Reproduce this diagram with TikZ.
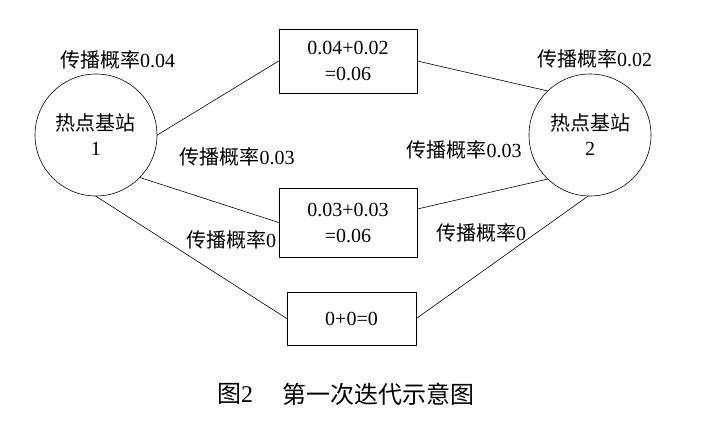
\documentclass[tikz,border=0pt]{standalone}
\usepackage{fontspec}
\setmainfont{Liberation Serif}
\newfontfamily\cjk{Noto Sans CJK SC}
\usetikzlibrary{positioning}

\begin{document}
\begin{tikzpicture}[x=1pt,y=-1pt]
\tikzset{
  hotnode/.style={circle,draw=black,line width=0.6pt,minimum size=122pt,inner sep=0pt,align=center,font=\fontsize{20}{25}\selectfont},
  sumnode/.style={rectangle,draw=black,line width=0.6pt,inner sep=0pt,align=center,font=\fontsize{20}{26}\selectfont},
  ratelabel/.style={inner sep=0pt,font=\fontsize{20}{24}\selectfont},
  linkedge/.style={draw=black,line width=0.6pt,line cap=round}
}
\useasboundingbox (0,0) rectangle (705,447);
\node[hotnode] (n_hot_1) at (96,135) {{\cjk 热点基站}\\1};
\node[hotnode] (n_hot_2) at (590,135) {{\cjk 热点基站}\\2};
\node[sumnode,minimum width=138pt,minimum height=64pt] (n_sum_a) at (348,61) {0.04+0.02\\=0.06};
\node[sumnode,minimum width=138pt,minimum height=69pt] (n_sum_b) at (348,222.5) {0.03+0.03\\=0.06};
\node[sumnode,minimum width=129pt,minimum height=53pt] (n_sum_c) at (351.5,318.5) {0+0=0};
\node[ratelabel] (l_rate_a1) at (117.5,60) {{\cjk 传播概率}0.04};
\node[ratelabel] (l_rate_a2) at (594.5,59) {{\cjk 传播概率}0.02};
\node[ratelabel] (l_rate_b1) at (237,157) {{\cjk 传播概率}0.03};
\node[ratelabel] (l_rate_b2) at (464,150) {{\cjk 传播概率}0.03};
\node[ratelabel] (l_rate_c1) at (231,240) {{\cjk 传播概率}0};
\node[ratelabel] (l_rate_c2) at (481,233) {{\cjk 传播概率}0};
\draw[linkedge] (n_hot_1.east) -- (n_sum_a.west);
\draw[linkedge] (n_sum_a.east) -- (n_hot_2.134);
\draw[linkedge] (n_hot_1.-44) -- (n_sum_b.west);
\draw[linkedge] (n_sum_b.11) -- (n_hot_2.-134);
\draw[linkedge] (n_hot_1.south) -- (n_sum_c.west);
\draw[linkedge] (n_sum_c.east) -- (n_hot_2.-92);
% caption
\node[inner sep=0pt,font=\fontsize{24}{28}\selectfont,anchor=west] (l_fig) at (217,394) {{\cjk 图}2};
\node[inner sep=0pt,font=\fontsize{24}{28}\selectfont,anchor=west] (l_title) at (282,394) {\cjk 第一次迭代示意图};
\end{tikzpicture}
\end{document}
